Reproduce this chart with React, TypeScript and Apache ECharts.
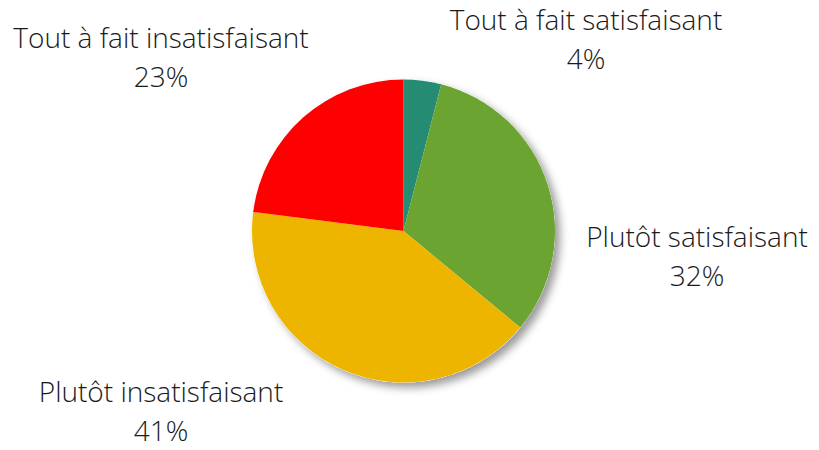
import React, { useEffect, useRef } from "react";
import * as echarts from "echarts";

const categories = [
  "Tout à fait satisfaisant",
  "Plutôt satisfaisant",
  "Plutôt insatisfaisant",
  "Tout à fait insatisfaisant",
];
const values = [4, 32, 41, 23];
const colors = ["#268B73", "#6BA431", "#EDB400", "#FF0000"];

// label anchor positions (centre of each two-line label)
const labelPos: [number, number][] = [
  [586, 38.5],
  [697, 255.5],
  [161, 410],
  [161, 56.5],
];

export default function App() {
  const ref = useRef<HTMLDivElement>(null);
  useEffect(() => {
    document.body.style.margin = "0";
    const chart = echarts.init(ref.current!, null, { renderer: "svg" });
    chart.setOption({
      animation: false,
      backgroundColor: "#ffffff",
      series: [
        {
          // shadow disc drawn beneath the pie
          type: "pie",
          center: [403.5, 231],
          radius: 151.5,
          silent: true,
          z: 1,
          label: { show: false },
          labelLine: { show: false },
          itemStyle: {
            color: "#ffffff",
            shadowColor: "rgba(0,0,0,0.4)",
            shadowBlur: 8,
            shadowOffsetX: 5,
            shadowOffsetY: 5,
          },
          data: [{ name: "", value: 1 }],
        },
        {
          type: "pie",
          center: [403.5, 231],
          radius: 151.5,
          startAngle: 90,
          clockwise: true,
          z: 2,
          avoidLabelOverlap: false,
          label: {
            show: true,
            position: "outside",
            formatter: (p: any) => `${p.name}\n${p.value}%`,
            fontFamily: "'Open Sans', sans-serif",
            fontWeight: 300,
            fontSize: 28,
            lineHeight: 39,
            color: "#1a1a1a",
            align: "center",
          },
          labelLine: { show: false },
          labelLayout: (params: any) => ({
            x: labelPos[params.dataIndex][0],
            y: labelPos[params.dataIndex][1],
            align: "center",
            verticalAlign: "middle",
          }),
          data: categories.map((c, i) => ({
            name: c,
            value: values[i],
            itemStyle: { color: colors[i] },
          })),
        },
      ],
    });
    return () => chart.dispose();
  }, []);
  return <div ref={ref} style={{ width: 819, height: 450 }} />;
}
